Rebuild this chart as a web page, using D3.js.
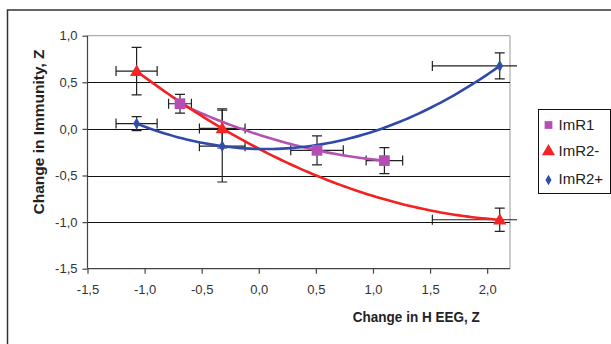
<!DOCTYPE html>
<html>
<head>
<meta charset="utf-8">
<script src="https://cdn.jsdelivr.net/npm/d3@7/dist/d3.min.js"></script>
<style>
  html, body { margin: 0; padding: 0; background: #fff; }
  svg { display: block; }
  text { font-family: "Liberation Sans", Arial, sans-serif; }
</style>
</head>
<body>
<svg id="chart" width="611" height="344"></svg>
<script>
// ---- data ----
const seriesNames = ["ImR1", "ImR2-", "ImR2+"];
const imr1X    = [-0.69, 0.51, 1.10];
const imr1Y    = [0.27, -0.23, -0.34];
const imr1XErr = [0.10, 0.23, 0.16];
const imr1YErr = [0.10, 0.155, 0.14];

const imr2mX    = [-1.07, -0.32, 2.11];
const imr2mY    = [0.62, 0.005, -0.975];
const imr2mXErr = [0.18, 0.20, 0.59];
const imr2mYErr = [0.255, 0.21, 0.125];

const imr2pX    = [-1.07, -0.32, 2.11];
const imr2pY    = [0.057, -0.185, 0.676];
const imr2pXErr = [0.18, 0.20, 0.59];
const imr2pYErr = [0.075, 0.385, 0.14];

const xTicks = [-1.5, -1.0, -0.5, 0.0, 0.5, 1.0, 1.5, 2.0];
const yTicks = [-1.5, -1.0, -0.5, 0.0, 0.5, 1.0];
const xTitle = "Change in H EEG, Z";
const yTitle = "Change in Immunity, Z";

// ---- styles ----
const markerColors = ["#b54db5", "#f52424", "#2f4ea8"];
const lineColors   = ["#b452b4", "#f22222", "#2f4aa8"];
const markerShapes = [d3.symbolSquare, d3.symbolTriangle, d3.symbolDiamond];
const markerSizes  = [115, 75, 40];

const series = [
  {x: imr1X, y: imr1Y, xe: imr1XErr, ye: imr1YErr},
  {x: imr2mX, y: imr2mY, xe: imr2mXErr, ye: imr2mYErr},
  {x: imr2pX, y: imr2pY, xe: imr2pXErr, ye: imr2pYErr}
];

const svg = d3.select("#chart");
const L = 87.5, R = 510, T = 35.7, B = 268.7;
const x = d3.scaleLinear().domain([-1.5, 2.2]).range([L, R]);
const y = d3.scaleLinear().domain([-1.5, 1.0]).range([B, T]);
const fmt = v => d3.format(".1f")(v).replace("−", "-").replace(".", ",");

// outer chart border
svg.append("rect").attr("x", 7.5).attr("y", 10).attr("width", 640).attr("height", 400)
  .attr("fill", "none").attr("stroke", "#333").attr("stroke-width", 1.5);

// plot area border (gray)
svg.append("path")
  .attr("d", `M${L},${T}H${R}V${B}`)
  .attr("fill", "none").attr("stroke", "#999").attr("stroke-width", 1);

// gridlines
svg.append("g").selectAll("line").data(yTicks.filter(v => v > -1.5 && v < 1.0)).join("line")
  .attr("x1", L).attr("x2", R)
  .attr("y1", d => Math.round(y(d)) + 0.5).attr("y2", d => Math.round(y(d)) + 0.5)
  .attr("stroke", "#111").attr("stroke-width", 1);

// axes
const yAxis = svg.append("g").attr("transform", `translate(${L},0)`)
  .call(d3.axisLeft(y).tickValues(yTicks).tickFormat(fmt).tickSize(5).tickSizeOuter(0).tickPadding(5));
const xAxis = svg.append("g").attr("transform", `translate(0,${B})`)
  .call(d3.axisBottom(x).tickValues(xTicks).tickFormat(fmt).tickSize(5).tickSizeOuter(0).tickPadding(11));
[yAxis, xAxis].forEach(a => {
  a.select(".domain").attr("stroke", "#444").attr("stroke-width", 1.2);
  a.selectAll(".tick line").attr("stroke", "#444").attr("stroke-width", 1.2);
  a.selectAll(".tick text").attr("fill", "#333").style("font-size", "13px")
    .style("font-family", '"Liberation Sans", Arial, sans-serif');
});
xAxis.select(".domain").attr("d", `M${L},0H${R}`);
yAxis.select(".domain").attr("d", `M0,${B}V${T}`);

// titles
svg.append("text").attr("x", 416.3).attr("y", 321.7).attr("text-anchor", "middle")
  .attr("font-weight", "bold").attr("font-size", "14.5px").attr("fill", "#222")
  .attr("textLength", 127).attr("lengthAdjust", "spacingAndGlyphs").text(xTitle);
svg.append("text").attr("transform", "translate(44,132) rotate(-90)").attr("text-anchor", "middle")
  .attr("font-weight", "bold").attr("font-size", "15px").attr("fill", "#222")
  .attr("textLength", 165).attr("lengthAdjust", "spacingAndGlyphs").text(yTitle);

// clip for error bars (they run slightly past the plot edge)
svg.append("clipPath").attr("id", "errclip").append("rect")
  .attr("x", 0).attr("y", 0).attr("width", 517).attr("height", 344);

// quadratic least-squares trendline
function polyfit2(xs, ys) {
  const n = xs.length;
  let s = [0,0,0,0,0], t = [0,0,0];
  for (let i = 0; i < n; i++) {
    for (let k = 0; k < 5; k++) s[k] += Math.pow(xs[i], k);
    for (let k = 0; k < 3; k++) t[k] += ys[i] * Math.pow(xs[i], k);
  }
  const M = [[s[0], s[1], s[2], t[0]], [s[1], s[2], s[3], t[1]], [s[2], s[3], s[4], t[2]]];
  for (let c = 0; c < 3; c++) {
    let p = c;
    for (let r = c + 1; r < 3; r++) if (Math.abs(M[r][c]) > Math.abs(M[p][c])) p = r;
    [M[c], M[p]] = [M[p], M[c]];
    for (let r = 0; r < 3; r++) if (r !== c) {
      const f = M[r][c] / M[c][c];
      for (let k = c; k < 4; k++) M[r][k] -= f * M[c][k];
    }
  }
  return [M[0][3] / M[0][0], M[1][3] / M[1][1], M[2][3] / M[2][2]];
}

const errG = svg.append("g").attr("clip-path", "url(#errclip)");
const cap = 5;
series.forEach(s => {
  s.x.forEach((xv, i) => {
    const cx = x(xv), cy = y(s.y[i]);
    const y1 = y(s.y[i] + s.ye[i]), y2 = y(s.y[i] - s.ye[i]);
    const x1 = x(xv - s.xe[i]), x2 = x(xv + s.xe[i]);
    const d = `M${cx},${y1}V${y2}M${cx - cap},${y1}H${cx + cap}M${cx - cap},${y2}H${cx + cap}` +
              `M${x1},${cy}H${x2}M${x1},${cy - cap}V${cy + cap}M${x2},${cy - cap}V${cy + cap}`;
    errG.append("path").attr("d", d).attr("fill", "none").attr("stroke", "#222").attr("stroke-width", 1.2);
  });
});

// trendlines
series.forEach((s, si) => {
  const c = polyfit2(s.x, s.y);
  const x0 = d3.min(s.x), x1 = d3.max(s.x);
  const pts = d3.range(0, 81).map(k => {
    const xv = x0 + (x1 - x0) * k / 80;
    return [xv, c[0] + c[1] * xv + c[2] * xv * xv];
  });
  svg.append("path")
    .attr("d", d3.line().x(d => x(d[0])).y(d => y(d[1]))(pts))
    .attr("fill", "none").attr("stroke", lineColors[si]).attr("stroke-width", 2.6)
    .attr("stroke-linejoin", "round");
});

// markers
series.forEach((s, si) => {
  svg.append("g").selectAll("path").data(s.x.map((xv, i) => [xv, s.y[i]])).join("path")
    .attr("transform", d => `translate(${x(d[0])},${y(d[1]) + (si === 1 ? 1 : 0)})`)
    .attr("d", d3.symbol().type(markerShapes[si]).size(markerSizes[si]))
    .attr("fill", markerColors[si]);
});

// legend
const lg = svg.append("g");
lg.append("rect").attr("x", 538.5).attr("y", 109.5).attr("width", 72).attr("height", 84)
  .attr("fill", "#fff").attr("stroke", "#111").attr("stroke-width", 1);
const legendY = [125, 151.5, 180];
const legendBase = [130, 156, 184];
seriesNames.forEach((name, i) => {
  lg.append("path").attr("transform", `translate(548.5,${legendY[i]})`)
    .attr("d", d3.symbol().type(markerShapes[i]).size([60, 75, 32][i]))
    .attr("fill", markerColors[i]);
  lg.append("text").attr("x", 558.5).attr("y", legendBase[i])
    .attr("font-size", "15px").attr("fill", "#222").text(name);
});
</script>
</body>
</html>
